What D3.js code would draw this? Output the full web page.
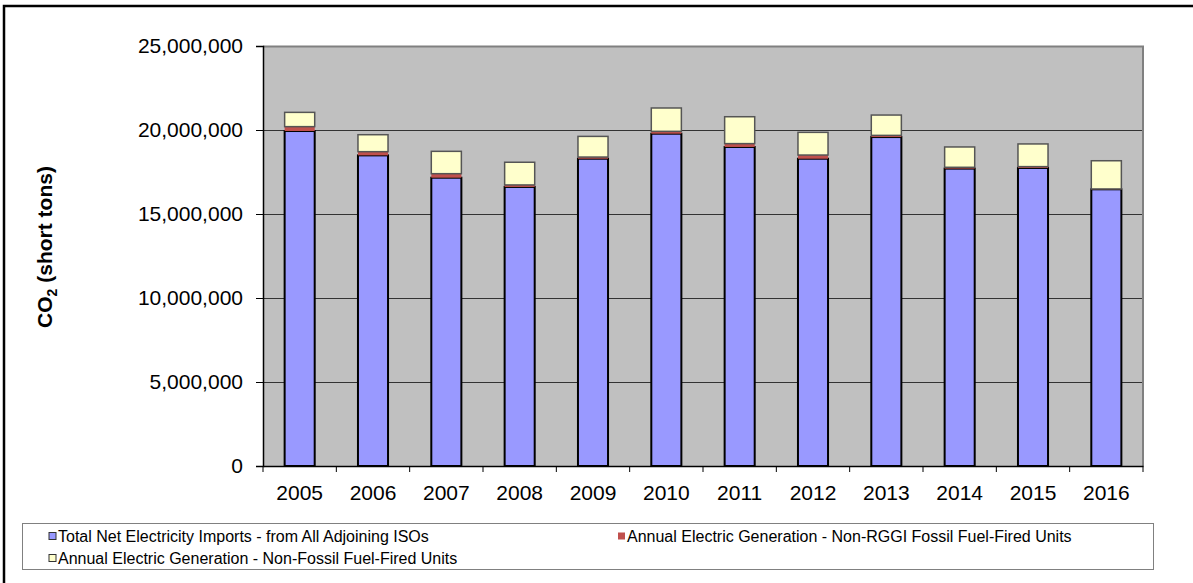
<!DOCTYPE html>
<html>
<head>
<meta charset="utf-8">
<script src="https://cdn.jsdelivr.net/npm/d3@7"></script>
<style>
  html, body { margin: 0; padding: 0; background: #fff; overflow: hidden; }
  svg { display: block; font-family: "Liberation Sans", Arial, sans-serif; }
</style>
</head>
<body>
<svg id="chart" width="1193" height="583"></svg>
<script>
// ---- data (short tons) ----
const years = ["2005","2006","2007","2008","2009","2010","2011","2012","2013","2014","2015","2016"];
const netImports = [19940000,18490000,17160000,16610000,18290000,19780000,18990000,18290000,19580000,17700000,17740000,16470000];
const nonRggiFossil = [260000,220000,240000,120000,100000,140000,200000,220000,100000,80000,80000,20000];
const nonFossil = [850000,1010000,1330000,1350000,1230000,1390000,1600000,1350000,1210000,1210000,1350000,1680000];
const yTicks = [0,5000000,10000000,15000000,20000000,25000000];
const seriesNames = [
  "Total Net Electricity Imports - from All Adjoining ISOs",
  "Annual Electric Generation - Non-RGGI Fossil Fuel-Fired Units",
  "Annual Electric Generation - Non-Fossil Fuel-Fired Units"
];
const seriesColors = ["#9999FF", "#C0504D", "#FFFFCC"];
const seriesStrokes = ["#000000", "none", "#555555"];

const svg = d3.select("#chart");
const plot = { left: 263, top: 46, right: 1143, bottom: 466 };

// outer border (right/bottom edges are cropped in the reference)
svg.append("rect").attr("x", 4).attr("y", 6).attr("width", 1220).attr("height", 620)
  .attr("fill", "#fff").attr("stroke", "#000").attr("stroke-width", 2.5);

const x = d3.scaleBand().domain(years).range([plot.left, plot.right]).paddingInner(0.59).paddingOuter(0.295);
const xOuter = d3.scaleBand().domain(years).range([plot.left, plot.right]);
const y = d3.scaleLinear().domain([0, 25000000]).range([plot.bottom, plot.top]);

// plot background
svg.append("rect").attr("x", plot.left).attr("y", plot.top)
  .attr("width", plot.right - plot.left).attr("height", plot.bottom - plot.top)
  .attr("fill", "#C0C0C0");
// plot border top/right
svg.append("path")
  .attr("d", `M${plot.left},${plot.top + 0.5}H${plot.right}V${plot.bottom}`)
  .attr("fill", "none").attr("stroke", "#808080").attr("stroke-width", 2);

// gridlines
svg.append("g").selectAll("line").data(yTicks.filter(d => d > 0 && d < 25000000)).join("line")
  .attr("x1", plot.left).attr("x2", plot.right - 1)
  .attr("y1", d => Math.round(y(d)) + 0.5).attr("y2", d => Math.round(y(d)) + 0.5)
  .attr("stroke", "#333").attr("stroke-width", 1);

// stacked data
const rows = years.map((yr, i) => ({ year: yr, s0: netImports[i], s1: nonRggiFossil[i], s2: nonFossil[i] }));
const stack = d3.stack().keys(["s0", "s1", "s2"])(rows);

stack.forEach((layer, li) => {
  svg.append("g").selectAll("rect").data(layer).join("rect")
    .attr("x", d => x(d.data.year))
    .attr("width", x.bandwidth())
    .attr("y", d => y(d[1]))
    .attr("height", d => y(d[0]) - y(d[1]))
    .attr("fill", seriesColors[li])
    .attr("stroke", seriesStrokes[li])
    .attr("stroke-width", li === 0 ? 2 : 1.5);
});

// y axis
const yAxis = d3.axisLeft(y).tickValues(yTicks).tickSize(7).tickPadding(13)
  .tickFormat(d3.format(","));
const gy = svg.append("g").attr("transform", `translate(${plot.left},0)`).call(yAxis);
gy.select(".domain").attr("stroke", "#000").attr("stroke-width", 1.5);
gy.selectAll(".tick line").attr("stroke", "#000");
gy.selectAll("text").attr("font-size", 21).attr("fill", "#000")
  .attr("font-family", "'Liberation Sans', Arial, sans-serif");

// x axis
const xAxis = d3.axisBottom(xOuter).tickSize(0).tickPadding(19);
const gx = svg.append("g").attr("transform", `translate(0,${plot.bottom})`).call(xAxis);
gx.select(".domain").attr("stroke", "#000").attr("stroke-width", 1.5);
gx.selectAll("text").attr("font-size", 21).attr("fill", "#000")
  .attr("font-family", "'Liberation Sans', Arial, sans-serif");
// category separator ticks
svg.append("g").selectAll("line").data(years).join("line")
  .attr("x1", d => xOuter(d) + xOuter.bandwidth()).attr("x2", d => xOuter(d) + xOuter.bandwidth())
  .attr("y1", plot.bottom).attr("y2", plot.bottom + 6)
  .attr("stroke", "#000").attr("stroke-width", 1);
svg.append("line").attr("x1", plot.left).attr("x2", plot.left)
  .attr("y1", plot.bottom).attr("y2", plot.bottom + 6).attr("stroke", "#000");

// y axis title
const yt = svg.append("text")
  .attr("transform", `translate(52,247) rotate(-90)`)
  .attr("text-anchor", "middle")
  .attr("font-size", 21).attr("font-weight", "bold");
yt.append("tspan").text("CO");
yt.append("tspan").attr("font-size", 14).attr("dy", 5).text("2");
yt.append("tspan").attr("dy", -5).text(" (short tons)");

// legend
svg.append("rect").attr("x", 22.5).attr("y", 523.5).attr("width", 1131).attr("height", 46)
  .attr("fill", "#fff").attr("stroke", "#808080").attr("stroke-width", 1);
const legendPos = [[48, 542], [617, 542], [48, 564]];
const lg = svg.append("g").selectAll("g").data(seriesNames).join("g")
  .attr("transform", (d, i) => `translate(${legendPos[i][0]},${legendPos[i][1]})`);
lg.append("rect").attr("x", 1).attr("y", -9.5).attr("width", 7).attr("height", 7)
  .attr("fill", (d, i) => seriesColors[i])
  .attr("stroke", (d, i) => i === 1 ? "none" : "#333").attr("stroke-width", 1);
lg.append("text").attr("x", 10).attr("y", 0).attr("font-size", 16).attr("fill", "#000").text(d => d);
</script>
</body>
</html>
